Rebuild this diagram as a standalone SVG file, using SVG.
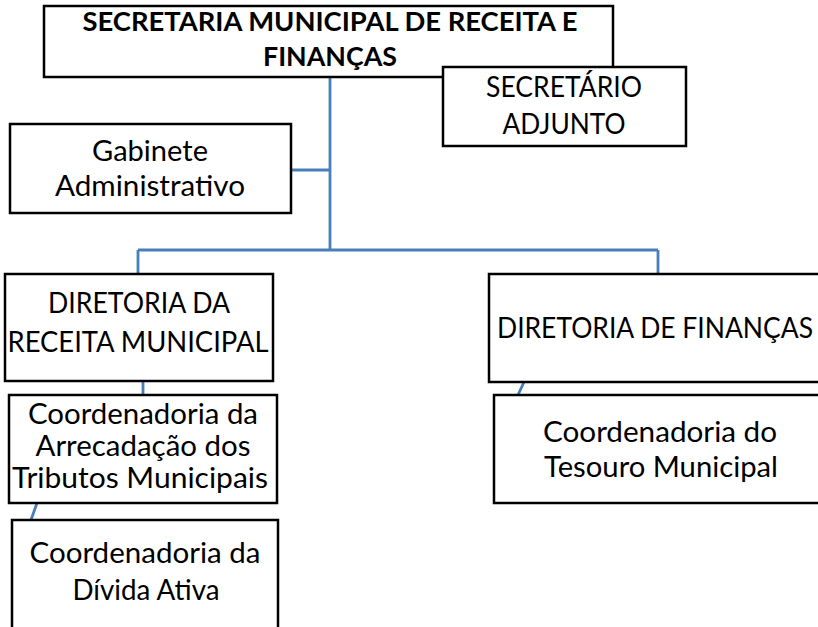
<svg xmlns="http://www.w3.org/2000/svg" width="818" height="627" viewBox="0 0 818 627">
<style>
.box{fill:#ffffff;stroke:#000000;stroke-width:2.5}
.con{fill:none;stroke:#4a7ebb;stroke-width:2.8}
.t{font-family:Lato,"Open Sans","Liberation Sans",sans-serif;font-size:28px;fill:#000000;text-anchor:middle}
.tb{font-family:Lato,"Open Sans","Liberation Sans",sans-serif;font-size:26px;font-weight:bold;fill:#000000;text-anchor:middle}
</style>
<rect width="818" height="627" fill="#ffffff"/>
<g id="connectors">
<path class="con" d="M330,77 V250 M291,170 H330 M138,250 H658 M138,250 V274 M658,250 V274 M143,381 V395 M37,503 L31,520 M524,382 L518,395"/>
</g>
<g id="secretaria">
<rect class="box" x="44" y="6" width="569" height="71"/>
<text class="tb" x="330" y="31" textLength="495" lengthAdjust="spacingAndGlyphs">SECRETARIA MUNICIPAL DE RECEITA E</text>
<text class="tb" x="330" y="66" textLength="134" lengthAdjust="spacingAndGlyphs">FINANÇAS</text>
</g>
<g id="secretario-adjunto">
<rect class="box" x="443" y="67" width="243" height="79"/>
<text class="t" x="564" y="97" textLength="156" lengthAdjust="spacingAndGlyphs">SECRETÁRIO</text>
<text class="t" x="564" y="134" textLength="123" lengthAdjust="spacingAndGlyphs">ADJUNTO</text>
</g>
<g id="gabinete">
<rect class="box" x="10" y="124" width="281" height="89"/>
<text class="t" x="150" y="161" textLength="116" lengthAdjust="spacingAndGlyphs">Gabinete</text>
<text class="t" x="150" y="196" textLength="190" lengthAdjust="spacingAndGlyphs">Administrativo</text>
</g>
<g id="diretoria-receita">
<rect class="box" x="5" y="274" width="268" height="107"/>
<text class="t" x="139" y="313" textLength="182" lengthAdjust="spacingAndGlyphs">DIRETORIA DA</text>
<text class="t" x="138" y="352" textLength="261" lengthAdjust="spacingAndGlyphs">RECEITA MUNICIPAL</text>
</g>
<g id="coord-arrecadacao">
<rect class="box" x="9" y="395" width="268" height="108"/>
<text class="t" x="143" y="424" textLength="230" lengthAdjust="spacingAndGlyphs">Coordenadoria da</text>
<text class="t" x="143" y="456" textLength="215" lengthAdjust="spacingAndGlyphs">Arrecadação dos</text>
<text class="t" x="140" y="488" textLength="256" lengthAdjust="spacingAndGlyphs">Tributos Municipais</text>
</g>
<g id="coord-divida">
<rect class="box" x="12" y="520" width="266" height="115"/>
<text class="t" x="145" y="563" textLength="231" lengthAdjust="spacingAndGlyphs">Coordenadoria da</text>
<text class="t" x="146" y="600" textLength="147" lengthAdjust="spacingAndGlyphs">Dívida Ativa</text>
</g>
<g id="diretoria-financas">
<rect class="box" x="489" y="274" width="337" height="108"/>
<text class="t" x="655" y="338" textLength="316" lengthAdjust="spacingAndGlyphs">DIRETORIA DE FINANÇAS</text>
</g>
<g id="coord-tesouro">
<rect class="box" x="494" y="395" width="332" height="108"/>
<text class="t" x="660" y="442" textLength="234" lengthAdjust="spacingAndGlyphs">Coordenadoria do</text>
<text class="t" x="661" y="477" textLength="234" lengthAdjust="spacingAndGlyphs">Tesouro Municipal</text>
</g>
</svg>
